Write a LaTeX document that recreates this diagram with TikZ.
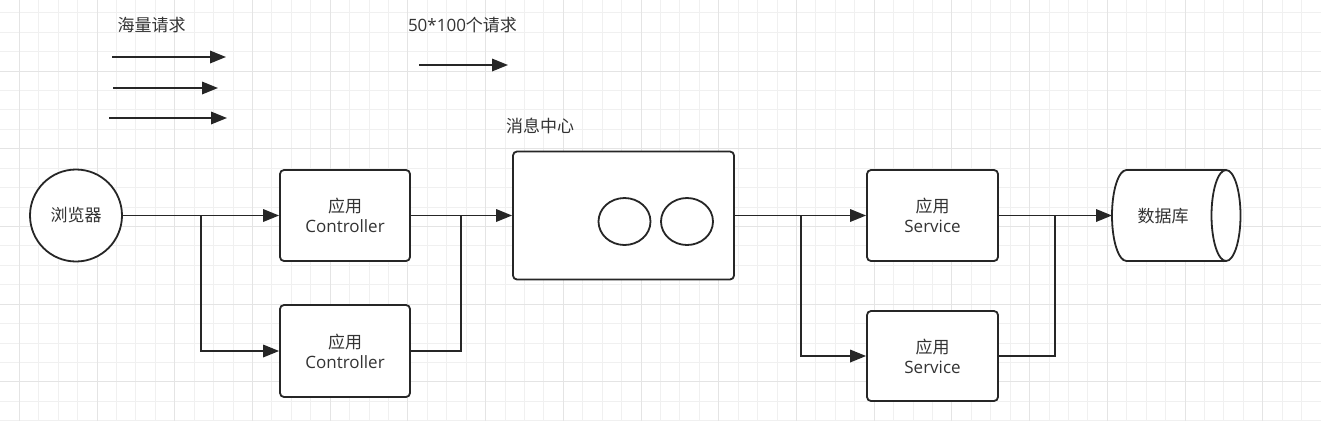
\documentclass[tikz,border=0pt]{standalone}
\usepackage{fontspec}
\setmainfont{Open Sans}
\newfontfamily\cjk{Noto Sans CJK SC}
\usetikzlibrary{arrows.meta,shapes.geometric}
\definecolor{txt}{HTML}{333333}
\definecolor{linec}{HTML}{262626}
\definecolor{gmin}{HTML}{F0F0F0}
\definecolor{gmaj}{HTML}{E4E4E4}
\tikzset{
  box/.style={draw=linec, fill=white, line width=1.8, rounded corners=4, inner sep=0, align=center, text=txt},
  lbl/.style={text=txt, inner sep=0},
  conn/.style={draw=linec, line width=1.8},
  arr/.style={conn, -{Triangle[length=16,width=12.5]}},
}
\begin{document}
\begin{tikzpicture}[x=1pt,y=-1pt,font=\fontsize{17}{20}\selectfont]
\useasboundingbox (0,0) rectangle (1321,421);
\fill[white] (0,0) rectangle (1321,421);
% grid
\foreach \k in {-4,...,62} \draw[gmin, line width=1] ({97+19.43*\k},0) -- ({97+19.43*\k},421);
\foreach \k in {-3,...,18} \draw[gmin, line width=1] (0,{71+19.43*\k}) -- (1321,{71+19.43*\k});
\foreach \k in {-4,0,...,60} \draw[gmaj, line width=1] ({97+19.43*\k},0) -- ({97+19.43*\k},421);
\foreach \k in {0,4,...,16} \draw[gmaj, line width=1] (0,{71+19.43*\k}) -- (1321,{71+19.43*\k});

% top labels and arrows
\node[lbl] (t1) at (151.5,25) {\cjk 海量请求};
\node[lbl] (t2) at (462.5,25) {50*100\cjk 个请求};
\coordinate (a1s) at (112,57);  \coordinate (a1e) at (226,57);
\coordinate (a2s) at (113,88);  \coordinate (a2e) at (218,88);
\coordinate (a3s) at (109,118); \coordinate (a3e) at (227,118);
\coordinate (a4s) at (419,65);  \coordinate (a4e) at (508,65);
\draw[arr] (a1s) -- (a1e);
\draw[arr] (a2s) -- (a2e);
\draw[arr] (a3s) -- (a3e);
\draw[arr] (a4s) -- (a4e);

% browser
\node[circle, draw=linec, fill=white, line width=1.8, minimum size=92, inner sep=0, text=txt] (br) at (76,215.5) {\cjk 浏览器};

% controllers
\node[box, minimum width=130, minimum height=91] (c1) at (345,215.5) {{\cjk 应用}\\Controller};
\node[box, minimum width=130, minimum height=92] (c2) at (345,351) {{\cjk 应用}\\Controller};

% message center
\node[lbl] (mlbl) at (540,126) {\cjk 消息中心};
\node[box, minimum width=221, minimum height=128] (msg) at (623.5,215.5) {};
\node[ellipse, draw=linec, line width=1.8, minimum width=52, minimum height=47, inner sep=0] (q1) at (624.5,221.5) {};
\node[ellipse, draw=linec, line width=1.8, minimum width=52, minimum height=47, inner sep=0] (q2) at (687,221.5) {};

% services
\node[box, minimum width=131, minimum height=91] (s1) at (932.5,215.5) {{\cjk 应用}\\Service};
\node[box, minimum width=131, minimum height=90] (s2) at (932.5,356) {{\cjk 应用}\\Service};

% database
\fill[white] (1226,170) -- (1126.5,170) arc[start angle=270,end angle=90,x radius=14.5,y radius=45.5] -- (1226,261) -- cycle;
\draw[linec, line width=1.8] (1226,170) -- (1126.5,170) arc[start angle=270,end angle=90,x radius=14.5,y radius=45.5] -- (1226,261);
\draw[linec, line width=1.8, fill=white] (1226,215.5) ellipse[x radius=14.5, y radius=45.5];
\node[lbl] (db) at (1163,216) {\cjk 数据库};
\coordinate (dbw) at (1112,215.5);

% junctions
\coordinate (j1) at (200.7,215.5);
\coordinate (j2) at (461,215.5);
\coordinate (j3) at (801,215.5);
\coordinate (j4) at (1055,215.5);

% connectors
\draw[arr] (br.east) -- (c1.west);
\draw[arr] (j1) |- (c2.west);
\draw[arr] (c1.east) -- (msg.west);
\draw[conn] (c2.east) -| (j2);
\draw[arr] (msg.east) -- (s1.west);
\draw[arr] (j3) |- (s2.west);
\draw[arr] (s1.east) -- (dbw);
\draw[conn] (s2.east) -| (j4);
\end{tikzpicture}
\end{document}
